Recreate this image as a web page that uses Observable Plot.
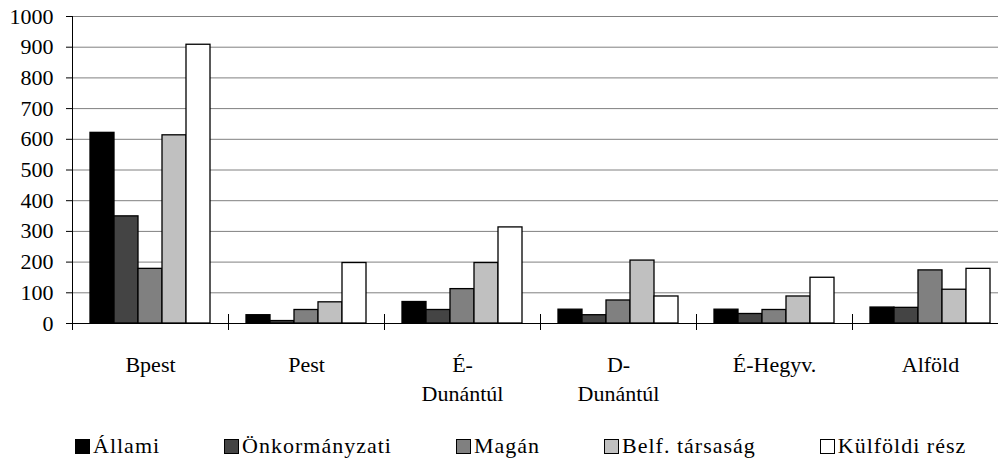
<!DOCTYPE html>
<html>
<head>
<meta charset="utf-8">
<script src="https://cdn.jsdelivr.net/npm/d3@7"></script>
<script src="https://cdn.jsdelivr.net/npm/@observablehq/plot@0.6"></script>
<style>
  body { margin: 0; background: #fff; font-family: "Liberation Serif", "Times New Roman", serif; }
  #chart { width: 998px; height: 460px; overflow: hidden; position: relative; }
  .legend { position: absolute; left: 75px; top: 435px; display: flex; gap: 64px; font-size: 22px; letter-spacing: 1px; line-height: 22px; color: #000; }
  .legend .item { display: flex; align-items: center; white-space: nowrap; }
  .legend .sw { width: 15px; height: 15px; box-sizing: border-box; border: 1.5px solid #000; margin-right: 3px; }
</style>
</head>
<body>
<div id="chart"></div>
<script>
const categories = ["Bpest", "Pest", "É-\nDunántúl", "D-\nDunántúl", "É-Hegyv.", "Alföld"];
const series = ["Állami", "Önkormányzati", "Magán", "Belf. társaság", "Külföldi rész"];
const allami        = [621, 27, 70, 45, 45, 52];
const onkormanyzati = [349, 8, 44, 27, 31, 51];
const magan         = [178, 44, 112, 75, 44, 173];
const belfTarsasag  = [613, 69, 197, 205, 88, 110];
const kulfoldiResz  = [908, 197, 313, 88, 149, 178];
const colors = ["#000000", "#444444", "#808080", "#c0c0c0", "#ffffff"];
const yTicks = [0, 100, 200, 300, 400, 500, 600, 700, 800, 900, 1000];

const seriesValues = [allami, onkormanyzati, magan, belfTarsasag, kulfoldiResz];
const data = [];
categories.forEach((c, i) => {
  series.forEach((s, j) => data.push({cat: c, series: s, value: seriesValues[j][i]}));
});

const font = "Liberation Serif";
const plot = Plot.plot({
  width: 998,
  height: 415,
  marginLeft: 72,
  marginRight: -10,
  marginTop: 16,
  marginBottom: 92,
  style: {fontFamily: font, background: "transparent", overflow: "visible"},
  fx: {domain: categories, padding: 0, axis: null},
  x: {domain: series, paddingInner: 0, paddingOuter: 0.723, axis: null},
  y: {domain: [0, 1000], axis: null},
  color: {domain: series, range: colors},
  marks: [
    Plot.ruleY(yTicks, {stroke: "#808080", strokeWidth: 1}),
    Plot.barY(data, {fx: "cat", x: "series", y: "value", fill: "series", stroke: "#000", strokeWidth: 1.3}),
    Plot.ruleY([0], {stroke: "#000", strokeWidth: 1}),
    Plot.frame({anchor: "left", stroke: "#000", insetTop: 298, insetBottom: -6}),
    Plot.frame({anchor: "left", stroke: "#000", facetAnchor: "left", insetBottom: -6}),
    Plot.axisY({ticks: yTicks, tickSize: 6, tickPadding: 13, fontSize: 22, stroke: "#000", fill: "#000", label: null, tickFormat: d => String(d)}),
    Plot.text(categories, {fx: d => d, text: d => d, frameAnchor: "bottom", dy: 28, lineAnchor: "top", lineHeight: 1.32, fontSize: 22, fill: "#000", style: "letter-spacing:1.2px"})
  ]
});
const chart = document.getElementById("chart");
chart.appendChild(plot);

const legend = document.createElement("div");
legend.className = "legend";
series.forEach((s, j) => {
  const item = document.createElement("div");
  item.className = "item";
  const sw = document.createElement("span");
  sw.className = "sw";
  sw.style.background = colors[j];
  item.appendChild(sw);
  const t = document.createElement("span");
  t.textContent = s;
  item.appendChild(t);
  legend.appendChild(item);
});
chart.appendChild(legend);
</script>
</body>
</html>
